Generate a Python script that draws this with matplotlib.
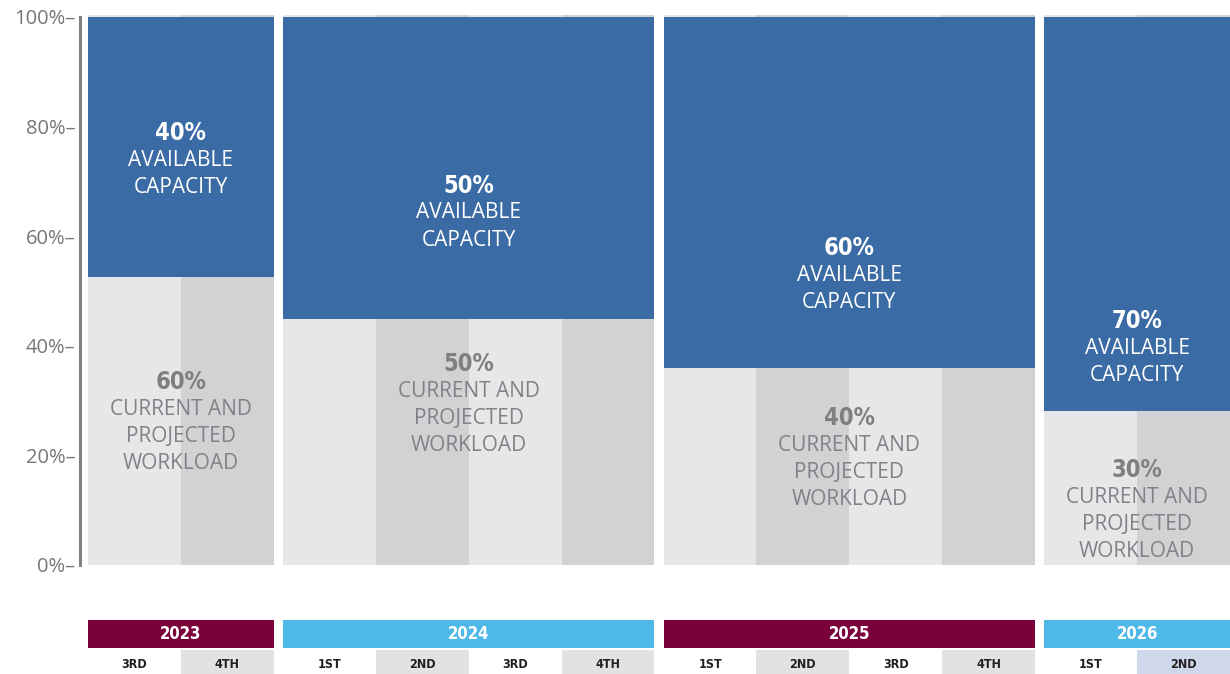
import matplotlib.pyplot as plt

years = ['2023', '2024', '2025', '2026']
quarters = [['3RD', '4TH'],
            ['1ST', '2ND', '3RD', '4TH'],
            ['1ST', '2ND', '3RD', '4TH'],
            ['1ST', '2ND']]
available_pct = [40, 50, 60, 70]
workload_pct = [60, 50, 40, 30]
# level where the blue block starts, as drawn in the picture
blue_bottom = [52.6, 44.9, 35.9, 28.1]
yticks = [0, 20, 40, 60, 80, 100]

# label placement (y of the bold percentage line)
avail_label_y = [78.8, 69.2, 57.8, 44.5]
work_label_y = [33.4, 36.7, 26.8, 17.3]

blue = '#3b6ba5'
col_light = '#e6e7e9'
col_dark = '#d1d2d4'
year_colors = ['#7a003c', '#4eb8e8', '#7a003c', '#4eb8e8']
cell_colors = ['#ffffff', '#e1e2e4']
last_cell = '#cfd8ea'
gray_txt = '#808285'

narrow = dict(family='DejaVu Sans', fontstretch='condensed', fontweight='bold')
body = ['Open Sans', 'DejaVu Sans']

W, H = 1230, 674
fig = plt.figure(figsize=(W / 100, H / 100), dpi=100)
ax = fig.add_axes([88 / W, 109 / H, 1142 / W, 548 / H])
ax2 = fig.add_axes([88 / W, 0, 1142 / W, 54 / H])

gap = 0.1
line = 4.95
x = 0
for yi, qs in enumerate(quarters):
    n = len(qs)
    # quarter background columns
    for qi in range(n):
        c = col_light if qi % 2 == 0 else col_dark
        ax.bar(x + qi, 100.4, width=1, align='edge', color=c, lw=0, clip_on=False)
    # available capacity block
    ax.bar(x, 100 - blue_bottom[yi], bottom=blue_bottom[yi], width=n,
           align='edge', color=blue, lw=0)

    cx = x + n / 2
    ya = avail_label_y[yi]
    ax.text(cx, ya, f'{available_pct[yi]}%', ha='center', va='center',
            color='white', fontsize=17, **narrow)
    for k, t in enumerate(['AVAILABLE', 'CAPACITY']):
        ax.text(cx, ya - line * (k + 1), t, ha='center', va='center',
                color='white', fontsize=15, family=body)

    yw = work_label_y[yi]
    ax.text(cx, yw, f'{workload_pct[yi]}%', ha='center', va='center',
            color='#7f7f7f', fontsize=17, **narrow)
    for k, t in enumerate(['CURRENT AND', 'PROJECTED', 'WORKLOAD']):
        ax.text(cx, yw - line * (k + 1), t, ha='center', va='center',
                color=gray_txt, fontsize=15, family=body)

    # year band and quarter labels
    ax2.bar(x, 28, bottom=26, width=n, align='edge', color=year_colors[yi], lw=0)
    ax2.text(cx, 40, years[yi], ha='center', va='center', color='white',
             fontsize=12, **narrow)
    for qi, q in enumerate(qs):
        c = cell_colors[qi % 2]
        if yi == len(quarters) - 1 and qi == n - 1:
            c = last_cell
        ax2.bar(x + qi, 24, bottom=0, width=1, align='edge', color=c, lw=0)
        ax2.text(x + qi + 0.5, 10, q, ha='center', va='center', color='#231f20',
                 fontsize=9, **narrow)
    x += n + gap

xmax = x - gap
ax.set_xlim(0, xmax)
ax.set_ylim(0, 100)
for s in ['top', 'right', 'bottom']:
    ax.spines[s].set_visible(False)
ax.spines['left'].set_position(('outward', 6))
ax.spines['left'].set_color('#808080')
ax.spines['left'].set_linewidth(2.2)
ax.set_xticks([])
ax.set_yticks(yticks)
ax.set_yticklabels([f'{v}%\u2013' for v in yticks], family=body, fontsize=14.5,
                   color='#777777')
ax.tick_params(axis='y', length=0, pad=3)

ax2.set_xlim(0, xmax)
ax2.set_ylim(0, 54)
ax2.axis('off')

fig.savefig('out.png', dpi=100)
